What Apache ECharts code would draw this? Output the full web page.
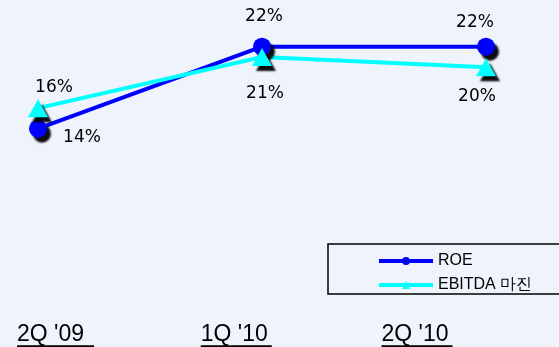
<!DOCTYPE html>
<html>
<head>
<meta charset="utf-8">
<script src="https://cdn.jsdelivr.net/npm/echarts@6/dist/echarts.min.js"></script>
<style>
  html, body { margin: 0; padding: 0; background: #eff4fc; }
  #chart { width: 559px; height: 347px; }
</style>
</head>
<body>
<div id="chart"></div>
<script>
// Quarterly profitability ratios (%)
const categories = ["2Q '09", "1Q '10", "2Q '10"];
const roeValues = [14, 22, 22];
const ebitdaValues = [16, 21, 20];
const seriesNames = ['ROE', 'EBITDA 마진'];

// Label offsets (px) from each marker centre
const roeLabelOffsets = [[44, 9], [2, -30], [-11, -24]];
const ebitdaLabelOffsets = [[16, -21], [3, 37], [-9, 29]];

const markerShadow = {
  shadowColor: 'rgba(0,0,0,0.95)',
  shadowBlur: 2,
  shadowOffsetX: 4,
  shadowOffsetY: 5
};

function withLabels(values, offsets) {
  return values.map((v, i) => ({
    value: v,
    label: { offset: offsets[i] }
  }));
}

const labelStyle = {
  show: true,
  position: 'inside',
  align: 'center',
  verticalAlign: 'middle',
  formatter: p => p.value + '%',
  fontFamily: 'DejaVu Sans',
  fontSize: 17,
  color: '#000'
};

const chart = echarts.init(document.getElementById('chart'));
chart.setOption({
  backgroundColor: '#eff4fc',
  animation: false,
  grid: [
    { left: 38, width: 448, top: 16, height: 256 },
    { left: 55.5, width: 361.5, top: 318, height: 1 }
  ],
  xAxis: [
    {
      type: 'category', gridIndex: 0, data: categories, boundaryGap: false,
      axisLine: { show: false }, axisTick: { show: false },
      axisLabel: { show: false }, splitLine: { show: false }
    },
    {
      type: 'category', gridIndex: 1, data: categories, boundaryGap: false,
      axisLine: { show: false }, axisTick: { show: false }, splitLine: { show: false },
      axisLabel: {
        margin: 5,
        formatter: (v, i) => '{t|' + v + (i === 0 ? ' ' : '') + '}\n{' + (i === 0 ? 'u0' : 'u') + '|}',
        rich: {
          t: { fontFamily: 'Liberation Sans', fontSize: 23, color: '#000', lineHeight: 22, align: 'left' },
          u: { width: 71, height: 2, backgroundColor: '#000', lineHeight: 2 },
          u0: { width: 77, height: 2, backgroundColor: '#000', lineHeight: 2 }
        }
      }
    }
  ],
  yAxis: [
    { type: 'value', gridIndex: 0, min: 0, max: 25, show: false },
    { type: 'value', gridIndex: 1, show: false }
  ],
  legend: {
    orient: 'vertical',
    left: 328,
    top: 244,
    padding: [9, 40, 1, 49],
    itemGap: 8,
    itemWidth: 54,
    itemHeight: 10,
    borderColor: '#000',
    borderWidth: 1.5,
    backgroundColor: '#eff4fc',
    lineStyle: { width: 4 },
    itemStyle: { shadowBlur: 0, shadowOffsetX: 0, shadowOffsetY: 0, shadowColor: 'rgba(0,0,0,0)' },
    textStyle: { fontFamily: 'Liberation Sans', fontSize: 16, color: '#000', padding: [5, 0, 0, 0] },
    data: seriesNames
  },
  series: [
    {
      name: seriesNames[0],
      type: 'line',
      xAxisIndex: 0, yAxisIndex: 0,
      data: withLabels(roeValues, roeLabelOffsets),
      symbol: 'circle',
      symbolSize: 18,
      lineStyle: { color: '#0000ff', width: 4 },
      itemStyle: Object.assign({ color: '#0000ff' }, markerShadow),
      label: labelStyle
    },
    {
      name: seriesNames[1],
      type: 'line',
      xAxisIndex: 0, yAxisIndex: 0,
      data: withLabels(ebitdaValues, ebitdaLabelOffsets),
      symbol: 'triangle',
      symbolSize: [20, 18],
      lineStyle: { color: '#00ffff', width: 4 },
      itemStyle: Object.assign({ color: '#00ffff' }, markerShadow),
      label: labelStyle
    }
  ]
});
</script>
</body>
</html>
